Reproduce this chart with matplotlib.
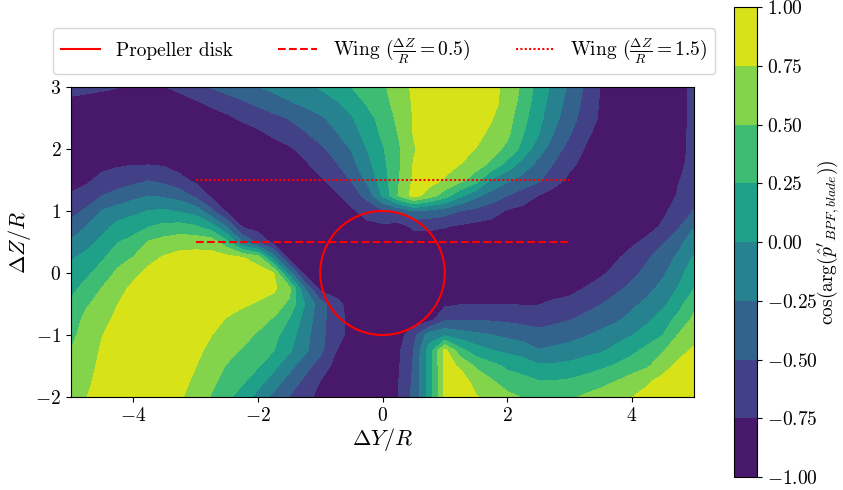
import numpy as np
import matplotlib
matplotlib.use("Agg")
import matplotlib.pyplot as plt
from matplotlib.patches import Circle
from matplotlib.lines import Line2D
from matplotlib.ticker import StrMethodFormatter

plt.rcParams['font.family'] = 'serif'
plt.rcParams['font.serif'] = ['cmr10']
plt.rcParams['mathtext.fontset'] = 'cm'
plt.rcParams['axes.formatter.use_mathtext'] = True

# ---- data ----
dy_values = np.linspace(-5, 5, 41)      # Delta Y / R grid
dz_values = np.linspace(3, -2, 21)      # Delta Z / R grid (top row first)
levels = [-1.0, -0.75, -0.5, -0.25, 0.0, 0.25, 0.5, 0.75, 1.0]

# band coordinate read at each grid point (0 -> value -1, 8 -> value +1),
# rows from dZ = 3 (top) down to dZ = -2, columns dY = -5 ... 5
band_coord_rows = [
    "1.75 1.39 1.19 1.04 0.73 0.61 0.95 1.32 1.70 2.06 2.37 2.68 2.99 3.25 3.52 3.78 4.07 4.54 5.0 5.42 5.83 6.48 7.18 7.5 7.5 7.5 7.5 7.3 6.69 5.81 4.6 3.74 2.81 1.88 0.96 0.5 0.5 0.5 0.5 0.72 1.2",
    "0.5 0.5 0.5 0.5 0.5 0.5 0.5 0.5 0.86 1.23 1.55 1.87 2.21 2.56 2.9 3.24 3.57 3.89 4.46 5.11 5.67 6.34 7.12 7.5 7.5 7.5 7.5 7.3 6.66 5.6 4.45 3.54 2.62 1.74 0.9 0.5 0.5 0.5 0.5 0.74 1.2",
    "0.5 0.5 0.5 0.5 0.5 0.5 0.5 0.5 0.5 0.5 0.8 1.17 1.46 1.75 2.05 2.44 2.84 3.33 3.89 4.6 5.38 6.19 7.06 7.5 7.5 7.5 7.5 7.06 6.41 5.33 4.31 3.3 2.42 1.59 0.84 0.5 0.5 0.5 0.5 0.74 1.2",
    "0.5 0.5 0.5 0.5 0.5 0.5 0.5 0.5 0.5 0.5 0.5 0.5 0.78 1.2 1.55 1.9 2.38 2.91 3.58 4.33 5.17 6.02 7.05 7.5 7.5 7.5 7.3 6.78 6.22 5.06 4.04 2.97 2.1 1.24 0.64 0.5 0.5 0.5 0.5 0.76 1.2",
    "0.5 0.5 0.5 0.5 0.5 0.5 0.5 0.5 0.5 0.5 0.5 0.5 0.5 0.5 0.84 1.32 1.79 2.37 3.04 4.0 4.89 5.81 6.91 7.46 7.5 7.46 6.96 6.4 5.76 4.7 3.44 2.5 1.61 0.94 0.5 0.5 0.5 0.5 0.5 0.78 1.2",
    "0.5 0.55 0.7 0.88 0.97 0.97 0.9 0.6 0.5 0.5 0.5 0.5 0.5 0.5 0.5 0.84 1.36 1.89 2.67 3.65 4.71 5.82 7.06 7.36 7.31 6.98 6.42 5.76 4.67 3.55 2.71 1.92 1.24 0.68 0.5 0.5 0.5 0.5 0.5 0.86 1.2",
    "0.6 0.8 1.32 1.5 1.7 1.95 1.7 1.26 0.78 0.5 0.5 0.5 0.5 0.5 0.5 0.5 0.86 1.43 2.05 3.21 4.48 5.88 7.15 7.39 6.9 6.29 5.43 3.84 3.18 2.65 2.17 1.45 0.76 0.5 0.5 0.5 0.5 0.5 0.5 0.96 1.3",
    "1.1 1.48 1.98 2.32 2.68 2.97 2.81 2.52 1.74 0.8 0.5 0.5 0.5 0.5 0.5 0.5 0.5 0.84 1.46 2.31 4.12 6.02 7.4 6.53 5.47 4.23 3.26 2.59 2.02 1.51 0.99 0.55 0.5 0.5 0.5 0.5 0.5 0.5 0.58 1.08 1.5",
    "1.67 2.14 3.07 3.42 3.75 4.04 4.12 3.88 3.56 2.25 0.8 0.5 0.5 0.5 0.5 0.5 0.5 0.5 0.82 1.37 1.8 2.2 3.0 2.73 2.46 1.98 1.72 1.4 0.9 0.7 0.55 0.5 0.5 0.5 0.5 0.5 0.5 0.5 0.8 1.41 2.05",
    "2.34 3.03 3.67 4.29 4.58 4.96 5.25 5.33 5.09 4.43 2.9 0.9 0.55 0.5 0.5 0.5 0.5 0.5 0.5 0.72 0.8 0.6 1.15 1.19 1.05 0.85 0.7 0.6 0.5 0.5 0.5 0.5 0.5 0.5 0.5 0.5 0.5 0.6 1.14 1.86 2.95",
    "3.12 3.68 4.26 4.95 5.31 6.07 6.37 6.63 6.65 6.56 5.29 3.0 1.8 0.7 0.5 0.5 0.5 0.5 0.5 0.5 0.5 0.5 0.5 0.5 0.5 0.5 0.5 0.5 0.5 0.5 0.5 0.5 0.5 0.5 0.5 0.55 0.8 1.25 1.88 2.67 3.6",
    "3.88 4.27 4.84 5.62 6.03 6.69 7.1 7.28 7.34 7.34 7.3 7.04 6.5 3.5 0.7 0.5 0.5 0.5 0.5 0.5 0.5 0.5 0.5 0.5 0.5 0.5 0.5 0.5 0.5 0.5 0.5 0.5 0.5 0.5 0.5 0.86 1.37 1.88 2.49 3.19 4.1",
    "4.34 4.79 5.45 6.18 6.68 7.26 7.5 7.5 7.5 7.5 7.5 7.5 7.5 7.06 3.5 0.6 0.5 0.5 0.5 0.5 0.5 0.5 0.5 0.5 0.5 0.5 0.5 0.5 0.5 0.5 0.5 0.5 0.5 0.5 0.82 1.29 1.75 2.26 2.84 3.64 4.6",
    "4.75 5.33 6.04 6.6 7.26 7.5 7.5 7.5 7.5 7.5 7.5 7.5 7.4 7.16 6.4 3.0 0.7 0.5 0.5 0.5 0.5 0.5 0.5 0.5 0.5 0.5 0.5 0.5 0.5 0.5 0.5 0.5 0.56 1.05 1.42 1.8 2.23 2.71 3.3 4.07 4.98",
    "5.12 5.89 6.36 6.98 7.5 7.5 7.5 7.5 7.5 7.5 7.4 7.14 6.9 6.58 5.76 4.0 2.44 1.33 0.6 0.5 0.5 0.5 0.5 0.5 0.8 0.95 0.95 0.95 0.95 0.95 0.95 1.2 1.45 1.71 1.96 2.36 2.78 3.24 3.76 4.62 5.77",
    "5.42 6.3 6.68 7.24 7.5 7.5 7.5 7.5 7.5 7.38 6.92 6.6 6.29 5.92 4.95 3.65 2.37 1.38 0.72 0.5 0.5 0.5 0.5 0.6 1.83 1.95 1.95 1.88 1.8 1.7 1.6 1.77 1.95 2.2 2.53 2.85 3.28 3.81 4.48 5.3 6.2",
    "5.71 6.5 6.97 7.45 7.5 7.5 7.5 7.5 7.5 7.02 6.64 6.29 5.9 5.31 4.48 3.39 2.3 1.36 0.7 0.5 0.5 0.5 1.67 3.5 3.8 3.43 3.2 3.02 2.77 2.59 2.33 2.44 2.65 2.91 3.24 3.6 3.96 4.46 4.98 6.05 6.5",
    "6.02 6.5 7.12 7.5 7.5 7.5 7.5 7.5 7.22 6.76 6.34 5.91 5.47 5.04 4.15 3.22 2.27 1.02 0.55 0.5 0.5 0.78 2.02 4.4 7.3 5.32 4.45 4.03 3.79 3.54 3.05 3.22 3.4 3.65 3.85 4.28 4.74 5.28 5.92 6.59 7.2",
    "6.4 6.6 7.28 7.5 7.5 7.5 7.5 7.5 7.02 6.47 5.93 5.51 5.08 4.29 3.35 2.43 1.48 0.74 0.5 0.5 0.5 0.86 2.08 4.4 7.24 6.9 5.85 5.3 4.83 4.54 4.15 4.15 4.26 4.5 4.79 5.12 5.49 5.87 6.57 7.26 7.5",
    "6.5 6.8 7.36 7.5 7.5 7.5 7.5 7.32 6.79 6.21 5.67 5.15 4.4 3.5 2.6 1.77 0.98 0.52 0.5 0.5 0.5 0.94 2.2 4.4 7.24 7.36 6.73 6.12 5.46 5.34 5.06 5.05 5.15 5.39 5.66 6.02 6.44 6.86 7.34 7.5 7.5",
    "6.5 6.98 7.46 7.5 7.5 7.5 7.5 7.12 6.55 5.94 5.25 4.5 3.65 2.75 1.97 1.3 0.72 0.5 0.5 0.5 0.5 0.98 2.25 4.4 7.24 7.5 7.06 6.68 6.32 5.92 5.55 5.5 5.75 6.16 6.43 6.71 6.98 7.3 7.5 7.5 7.5",
]

disk_center = (0.0, 0.0)
disk_radius = 1.0
wing_span = [-3.0, 3.0]
wing_low_z = 0.5
wing_high_z = 1.5
legend_labels = ["Propeller disk",
                 r"Wing ($\frac{\Delta Z}{R} = 0.5$)",
                 r"Wing ($\frac{\Delta Z}{R} = 1.5$)"]

# ---- field ----
band_coord = np.array([[float(t) for t in row.split()] for row in band_coord_rows])
field = levels[0] + (levels[1] - levels[0]) * band_coord
YY, ZZ = np.meshgrid(dy_values, dz_values)

dotted = (0, (1, 1.1))

fig = plt.figure(figsize=(8.43, 4.90), dpi=100)
ax = fig.add_axes([71 / 843, 1 - 397 / 490, 623 / 843, 310 / 490])
cf = ax.contourf(YY, ZZ, field, levels=levels, cmap='viridis')

ax.add_patch(Circle(disk_center, disk_radius, fill=False, color='red', lw=1.5))
ax.plot(wing_span, [wing_low_z] * 2, color='red', ls='--', lw=1.5)
ax.plot(wing_span, [wing_high_z] * 2, color='red', ls=dotted, lw=1.5)

ax.set_xlim(-5, 5)
ax.set_ylim(-2, 3)
ax.set_xticks([-4, -2, 0, 2, 4])
ax.set_yticks([-2, -1, 0, 1, 2, 3])
ax.tick_params(labelsize=14)
ax.set_xlabel(r"$\Delta Y/R$", fontsize=16, labelpad=1)
ax.set_ylabel(r"$\Delta Z/R$", fontsize=16, labelpad=2)

cax = fig.add_axes([734 / 843, 1 - 477 / 490, 23 / 843, 470 / 490])
cb = fig.colorbar(cf, cax=cax, ticks=levels)
cb.ax.yaxis.set_major_formatter(StrMethodFormatter("${x:.2f}$"))
cb.ax.tick_params(labelsize=14)
cb.set_label(r"$\cos(\arg(\hat{p}'_{BPF,blade}))$", fontsize=14)
cb.ax.yaxis.set_label_coords(3.55, 0.5)

handles = [Line2D([], [], color='red', ls='-', lw=1.5),
           Line2D([], [], color='red', ls='--', lw=1.5),
           Line2D([], [], color='red', ls=dotted, lw=1.5)]
fig.legend(handles, legend_labels, loc='center', bbox_to_anchor=(0.456, 0.896),
           ncol=3, fontsize=14, columnspacing=2.35)

fig.savefig("out.png", dpi=100)
